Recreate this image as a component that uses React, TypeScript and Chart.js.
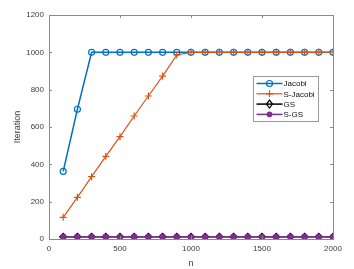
import React, { useEffect, useRef } from "react";
import { Chart, registerables } from "chart.js";

Chart.register(...registerables);

const nValues = [100, 200, 300, 400, 500, 600, 700, 800, 900, 1000, 1100, 1200, 1300, 1400, 1500, 1600, 1700, 1800, 1900, 2000];
const jacobi = [362, 695, 1000, 1000, 1000, 1000, 1000, 1000, 1000, 1000, 1000, 1000, 1000, 1000, 1000, 1000, 1000, 1000, 1000, 1000];
const sJacobi = [116, 223, 334, 443, 548, 659, 766, 873, 986, 1000, 1000, 1000, 1000, 1000, 1000, 1000, 1000, 1000, 1000, 1000];
const gs = [12, 12, 12, 12, 12, 12, 12, 12, 12, 12, 12, 12, 12, 12, 12, 12, 12, 12, 12, 12];
const sGs = [12, 12, 12, 12, 12, 12, 12, 12, 12, 12, 12, 12, 12, 12, 12, 12, 12, 12, 12, 12];
const seriesNames = ["Jacobi", "S-Jacobi", "GS", "S-GS"];
const xTicks = [0, 500, 1000, 1500, 2000];
const yTicks = [0, 200, 400, 600, 800, 1000, 1200];

const COLORS = ["#0072BD", "#D95319", "#000000", "#7E2F8E"];
const AXIS = "#8a8a8a";
const TEXT = "#3a3a3a";
const FONT = "Liberation Sans, Arial, sans-serif";

function toPts(vals: number[]) {
  return vals.map((v, i) => ({ x: nValues[i], y: v }));
}

function drawMarker(ctx: CanvasRenderingContext2D, kind: number, x: number, y: number) {
  ctx.save();
  ctx.strokeStyle = COLORS[kind];
  ctx.fillStyle = COLORS[kind];
  ctx.lineWidth = 1.2;
  ctx.beginPath();
  if (kind === 0) {
    ctx.arc(x, y, 3, 0, Math.PI * 2);
    ctx.stroke();
  } else if (kind === 1) {
    ctx.moveTo(x - 3.5, y); ctx.lineTo(x + 3.5, y);
    ctx.moveTo(x, y - 3.5); ctx.lineTo(x, y + 3.5);
    ctx.stroke();
  } else if (kind === 2) {
    ctx.moveTo(x, y - 4); ctx.lineTo(x + 3, y); ctx.lineTo(x, y + 4); ctx.lineTo(x - 3, y); ctx.closePath();
    ctx.stroke();
  } else {
    ctx.arc(x, y, 2.8, 0, Math.PI * 2);
    ctx.fill();
  }
  ctx.restore();
}

const framePlugin = {
  id: "matlabFrame",
  afterDraw(chart: any) {
    const ctx: CanvasRenderingContext2D = chart.ctx;
    const { left, right, top, bottom } = chart.chartArea;
    const xs = chart.scales.x;
    const ys = chart.scales.y;
    ctx.save();
    ctx.strokeStyle = AXIS;
    ctx.lineWidth = 1;
    ctx.strokeRect(Math.round(left) + 0.5, Math.round(top) + 0.5, Math.round(right - left), Math.round(bottom - top));
    ctx.beginPath();
    for (const t of xTicks) {
      const px = Math.round(xs.getPixelForValue(t)) + 0.5;
      ctx.moveTo(px, bottom); ctx.lineTo(px, bottom - 3);
      ctx.moveTo(px, top); ctx.lineTo(px, top + 3);
    }
    for (const t of yTicks) {
      const py = Math.round(ys.getPixelForValue(t)) + 0.5;
      ctx.moveTo(left, py); ctx.lineTo(left + 3, py);
      ctx.moveTo(right, py); ctx.lineTo(right - 3, py);
    }
    ctx.stroke();

    // legend box
    const bx = Math.round(right) - 79.5;
    const by = Math.round(top) + 61.5;
    const bw = 65;
    const bh = 45;
    ctx.fillStyle = "#ffffff";
    ctx.fillRect(bx, by, bw, bh);
    ctx.strokeStyle = "#9a9a9a";
    ctx.strokeRect(bx, by, bw, bh);
    ctx.font = `8px ${FONT}`;
    ctx.textBaseline = "middle";
    ctx.textAlign = "left";
    seriesNames.forEach((name, i) => {
      const ry = by + 7 + i * 10.3;
      ctx.strokeStyle = COLORS[i];
      ctx.lineWidth = i === 1 ? 1.2 : 1.5;
      ctx.beginPath();
      ctx.moveTo(bx + 3, ry);
      ctx.lineTo(bx + 29, ry);
      ctx.stroke();
      drawMarker(ctx, i, bx + 16, ry);
      ctx.fillStyle = "#111111";
      ctx.fillText(name, bx + 30, ry + 0.5);
    });
    ctx.restore();
  },
};

export default function App() {
  const ref = useRef<HTMLCanvasElement>(null);
  useEffect(() => {
    if (!ref.current) return;
    const chart = new Chart(ref.current, {
      type: "line",
      data: {
        datasets: [
          {
            label: seriesNames[0],
            data: toPts(jacobi),
            borderColor: COLORS[0],
            backgroundColor: COLORS[0],
            borderWidth: 1.5,
            pointStyle: "circle",
            pointRadius: 3,
            pointBorderWidth: 1.2,
            pointBackgroundColor: "rgba(0,0,0,0)",
            pointBorderColor: COLORS[0],
            order: 4,
          },
          {
            label: seriesNames[1],
            data: toPts(sJacobi),
            borderColor: COLORS[1],
            backgroundColor: COLORS[1],
            borderWidth: 1.2,
            pointStyle: "cross",
            pointRadius: 3.5,
            pointBorderWidth: 1.2,
            pointBorderColor: COLORS[1],
            order: 3,
          },
          {
            label: seriesNames[2],
            data: toPts(gs),
            borderColor: COLORS[2],
            backgroundColor: "rgba(0,0,0,0)",
            borderWidth: 1.5,
            pointStyle: "rectRot",
            pointRadius: 3.5,
            pointBorderWidth: 1.2,
            pointBorderColor: COLORS[2],
            order: 2,
          },
          {
            label: seriesNames[3],
            data: toPts(sGs),
            borderColor: COLORS[3],
            backgroundColor: COLORS[3],
            borderWidth: 1.5,
            pointStyle: "circle",
            pointRadius: 2.8,
            pointBorderWidth: 0.5,
            pointBackgroundColor: COLORS[3],
            pointBorderColor: COLORS[3],
            order: 1,
          },
        ],
      },
      options: {
        responsive: false,
        animation: false,
        layout: { padding: { left: 0, right: 21, top: 15, bottom: 0 } },
        plugins: { legend: { display: false }, tooltip: { enabled: false } },
        elements: { line: { tension: 0 } },
        scales: {
          x: {
            type: "linear",
            min: 0,
            max: 2000,
            afterFit: (s: any) => { s.height = 30; },
            afterBuildTicks: (s: any) => { s.ticks = xTicks.map((v) => ({ value: v })); },
            grid: { display: false, drawTicks: false },
            border: { display: false },
            ticks: { padding: 5, color: TEXT, font: { family: FONT, size: 8 }, maxRotation: 0, callback: (v: any) => String(v) },
            title: { display: true, text: "n", color: TEXT, font: { family: FONT, size: 9 }, padding: { top: 4, bottom: 0 } },
          },
          y: {
            type: "linear",
            min: 0,
            max: 1200,
            afterFit: (s: any) => { s.width = 49; },
            afterBuildTicks: (s: any) => { s.ticks = yTicks.map((v) => ({ value: v })); },
            grid: { display: false, drawTicks: false },
            border: { display: false },
            ticks: { padding: 5, color: TEXT, font: { family: FONT, size: 8 }, callback: (v: any) => String(v) },
            title: { display: true, text: "Iteration", color: TEXT, font: { family: FONT, size: 9 }, padding: { top: 12, bottom: 0 } },
          },
        },
      },
      plugins: [framePlugin],
    });
    return () => chart.destroy();
  }, []);
  return (
    <div style={{ position: "absolute", left: 0, top: 0, width: 354, height: 269, background: "#fff" }}>
      <canvas ref={ref} width={354} height={269} style={{ display: "block" }} />
    </div>
  );
}
